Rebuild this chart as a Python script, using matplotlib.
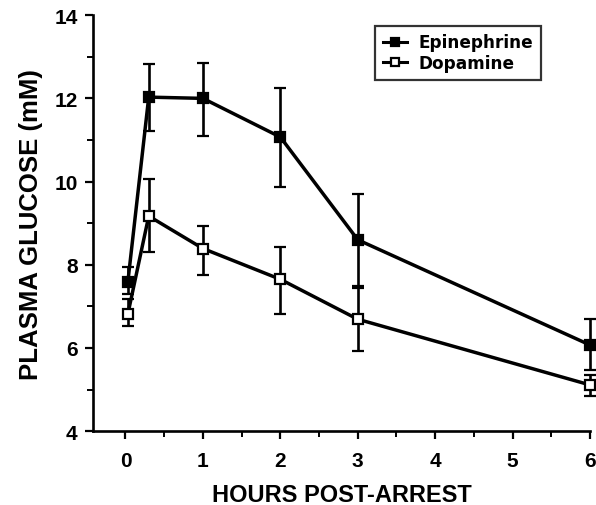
import matplotlib
matplotlib.use("Agg")
import matplotlib.pyplot as plt
from matplotlib.ticker import MultipleLocator

plt.rcParams["font.family"] = ["Liberation Sans", "DejaVu Sans"]
plt.rcParams["font.weight"] = "bold"

# hours post-arrest
hours = [0.03, 0.3, 1, 2, 3, 6]

epi_mean = [7.58, 12.03, 12.0, 11.07, 8.6, 6.07]
epi_upper = [7.94, 12.83, 12.86, 12.24, 9.7, 6.7]
epi_lower = [7.30, 11.22, 11.10, 9.87, 7.5, 5.47]

dopa_mean = [6.81, 9.17, 8.39, 7.65, 6.69, 5.11]
dopa_upper = [7.17, 10.07, 8.92, 8.42, 7.45, 5.35]
dopa_lower = [6.52, 8.31, 7.75, 6.82, 5.93, 4.84]

x_ticks = [0, 1, 2, 3, 4, 5, 6]
y_ticks = [4, 6, 8, 10, 12, 14]


def _err(mean, upper, lower):
    return [[m - lo for m, lo in zip(mean, lower)],
            [up - m for m, up in zip(mean, upper)]]


fig = plt.figure(figsize=(5.96, 5.06), dpi=100)
ax = fig.add_axes([0.156, 0.146, 0.834, 0.822])

common = dict(color="black", lw=2.5, ms=7.5, marker="s", capsize=4,
              elinewidth=1.9, capthick=1.9, clip_on=False, mew=1.6)
ax.errorbar(hours, epi_mean, yerr=_err(epi_mean, epi_upper, epi_lower),
            mfc="black", mec="black", label="Epinephrine", **common)
ax.errorbar(hours, dopa_mean, yerr=_err(dopa_mean, dopa_upper, dopa_lower),
            mfc="white", mec="black", label="Dopamine", **common)

ax.set_xlim(-0.42, 6.0)
ax.set_ylim(4, 14)
ax.set_xticks(x_ticks)
ax.set_yticks(y_ticks)
ax.xaxis.set_minor_locator(MultipleLocator(0.5))
ax.yaxis.set_minor_locator(MultipleLocator(1))
ax.tick_params(which="major", length=6, width=1.6, labelsize=15, pad=5)
ax.tick_params(axis="x", which="major", pad=8)
ax.tick_params(which="minor", length=4, width=1.4)
for lab in ax.get_xticklabels() + ax.get_yticklabels():
    lab.set_fontweight("bold")

for s in ["top", "right"]:
    ax.spines[s].set_visible(False)
for s in ["left", "bottom"]:
    ax.spines[s].set_linewidth(1.9)

ax.set_xlabel("HOURS POST-ARREST", fontsize=17, fontweight="bold", labelpad=10)
ax.set_ylabel("PLASMA GLUCOSE (mM)", fontsize=18.5, fontweight="bold", labelpad=8)

handles, labels = ax.get_legend_handles_labels()
handles = [h[0] for h in handles]
leg = ax.legend(handles, labels, loc="upper left", bbox_to_anchor=(0.630, 0.947),
                bbox_transform=fig.transFigure,
                prop={"family": "DejaVu Sans", "weight": "bold", "size": 12.2},
                frameon=True, fancybox=False, handlelength=1.4,
                markerscale=0.7, borderpad=0.45, labelspacing=0.15,
                handletextpad=0.7, borderaxespad=0)
leg.get_frame().set_edgecolor("black")
leg.get_frame().set_linewidth(1.6)
for line in leg.get_lines():
    line.set_linewidth(2.2)

fig.savefig("out.png", dpi=100)
